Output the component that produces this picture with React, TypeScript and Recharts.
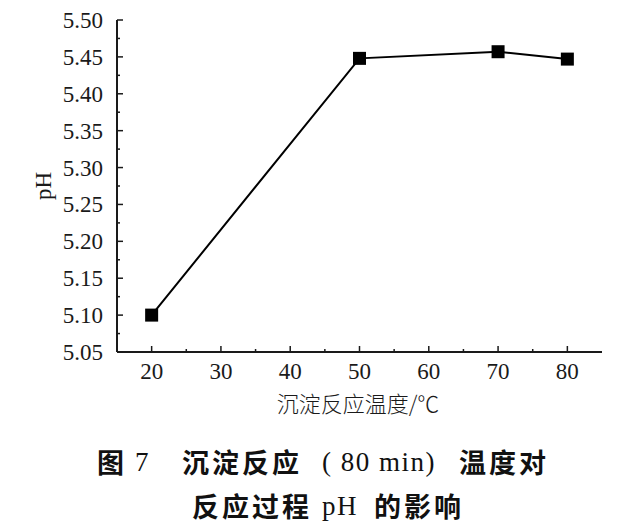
import { LineChart, Line, XAxis, YAxis } from 'recharts';

const temps = [20, 50, 70, 80];
const phValues = [5.1, 5.448, 5.457, 5.447];

const xTicks = [20, 25, 30, 35, 40, 45, 50, 55, 60, 65, 70, 75, 80];
const yTicks = [5.05, 5.075, 5.1, 5.125, 5.15, 5.175, 5.2, 5.225, 5.25, 5.275, 5.3, 5.325, 5.35, 5.375, 5.4, 5.425, 5.45, 5.475, 5.5];

const xTitle = '沉淀反应温度/℃';
const yTitle = 'pH';

const data = temps.map((t, i) => ({ t, ph: phValues[i] }));

const SERIF = '"Liberation Serif", "DejaVu Serif", serif';
const CJK = '"Noto Sans CJK SC", sans-serif';
const INK = '#1a1a1a';

function XTick(props: any) {
  const { x, y, payload } = props;
  const major = payload.value % 10 === 0;
  return (
    <g>
      <line x1={x} y1={y} x2={x} y2={y - (major ? 6 : 3)} stroke={INK} strokeWidth={1.5} />
      {major && (
        <text x={x} y={y + 27} textAnchor="middle" fill={INK} style={{ fontFamily: SERIF, fontSize: 23 }}>
          {payload.value}
        </text>
      )}
    </g>
  );
}

function YTick(props: any) {
  const { x, y, payload, index } = props;
  const major = index % 2 === 0;
  return (
    <g>
      <line x1={x} y1={y} x2={x + (major ? 6 : 3)} y2={y} stroke={INK} strokeWidth={1.5} />
      {major && (
        <text x={x - 14} y={y + 8} textAnchor="end" fill={INK} style={{ fontFamily: SERIF, fontSize: 23 }}>
          {payload.value.toFixed(2)}
        </text>
      )}
    </g>
  );
}

function SquareDot(props: any) {
  const { cx, cy } = props;
  const s = 13;
  return <rect x={cx - s / 2} y={cy - s / 2} width={s} height={s} fill="#000" />;
}

const cap = { position: 'absolute' as const, fontSize: 27, lineHeight: '30px', color: '#111', whiteSpace: 'pre' as const };
const capCjk = { ...cap, fontFamily: CJK, fontWeight: 700, letterSpacing: 3 };
const capSerif = { ...cap, fontFamily: SERIF, fontWeight: 400, letterSpacing: 1.5 };

export default function App() {
  return (
    <div style={{ position: 'absolute', left: 0, top: 0, width: 640, height: 525, background: '#fff', overflow: 'hidden' }}>
      <LineChart width={640} height={440} data={data} margin={{ top: 20, right: 38, left: 0, bottom: 58 }}>
        <XAxis
          dataKey="t"
          type="number"
          domain={[15, 85]}
          ticks={xTicks}
          interval={0}
          height={30}
          tickLine={false}
          tickSize={0}
          tickMargin={0}
          tick={<XTick />}
          axisLine={{ stroke: INK, strokeWidth: 2 }}
        />
        <YAxis
          dataKey="ph"
          type="number"
          domain={[5.05, 5.5]}
          ticks={yTicks}
          interval={0}
          width={117}
          tickLine={false}
          tickSize={0}
          tickMargin={0}
          tick={<YTick />}
          axisLine={{ stroke: INK, strokeWidth: 2 }}
        />
        <Line
          dataKey="ph"
          stroke="#000"
          strokeWidth={2}
          dot={<SquareDot />}
          activeDot={false}
          isAnimationActive={false}
        />
      </LineChart>
      <div style={{ position: 'absolute', left: 0, width: 716, top: 388, textAlign: 'center', fontFamily: CJK, fontWeight: 300, fontSize: 22, color: INK, lineHeight: '28px' }}>
        {xTitle}
      </div>
      <div style={{ position: 'absolute', left: 44, top: 186, transform: 'translate(-50%, -50%) rotate(-90deg)', fontFamily: SERIF, fontSize: 23, color: INK, lineHeight: '24px' }}>
        {yTitle}
      </div>
      <span style={{ ...capCjk, left: 97, top: 447 }}>图</span>
      <span style={{ ...capSerif, left: 135, top: 447 }}>7</span>
      <span style={{ ...capCjk, left: 182, top: 447 }}>沉淀反应</span>
      <span style={{ ...capSerif, left: 322, top: 447 }}>( 80 min)</span>
      <span style={{ ...capCjk, left: 459, top: 447 }}>温度对</span>
      <span style={{ ...capCjk, left: 192, top: 491 }}>反应过程</span>
      <span style={{ ...capSerif, left: 322, top: 491 }}>pH</span>
      <span style={{ ...capCjk, left: 374, top: 491 }}>的影响</span>
    </div>
  );
}
